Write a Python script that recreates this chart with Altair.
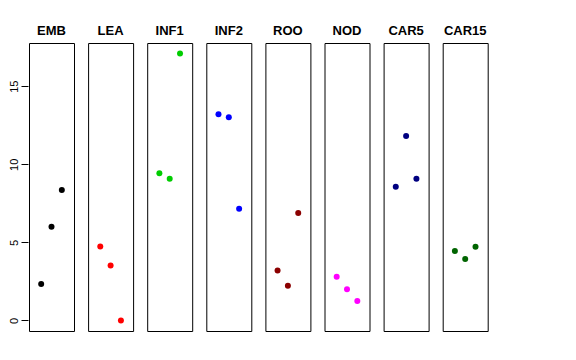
import altair as alt
import pandas as pd

panels = ["EMB", "LEA", "INF1", "INF2", "ROO", "NOD", "CAR5", "CAR15"]
colors = ["#000000", "#FF0000", "#00CD00", "#0000FF", "#8B0000", "#FF00FF", "#000080", "#006400"]
positions = [1, 2, 3]
emb = [2.33, 6.00, 8.35]
lea = [4.74, 3.52, 0.00]
inf1 = [9.42, 9.08, 17.09]
inf2 = [13.20, 13.01, 7.15]
roo = [3.20, 2.22, 6.88]
nod = [2.80, 1.99, 1.24]
car5 = [8.56, 11.81, 9.08]
car15 = [4.44, 3.93, 4.72]
series = [emb, lea, inf1, inf2, roo, nod, car5, car15]

rows = []
for name, vals in zip(panels, series):
    for p, v in zip(positions, vals):
        rows.append({"tissue": name, "pos": p, "value": v})
df = pd.DataFrame(rows)

FONT = "Liberation Sans"

base = alt.Chart(df).mark_circle(size=36, opacity=1).encode(
    x=alt.X("pos:Q", scale=alt.Scale(domain=[-0.18, 4.18], nice=False, zero=False), axis=None),
    y=alt.Y(
        "value:Q",
        scale=alt.Scale(domain=[-0.68, 17.77], nice=False, zero=False),
        axis=alt.Axis(
            values=[0, 5, 10, 15],
            title=None,
            grid=False,
            domain=False,
            tickSize=7,
            tickColor="black",
            tickWidth=1,
            labelAngle=270,
            labelAlign="center",
            labelBaseline="bottom",
            labelPadding=2,
            labelFont=FONT,
            labelFontSize=11,
            labelColor="black",
            minExtent=18,
            maxExtent=18,
        ),
    ),
    color=alt.Color("tissue:N", scale=alt.Scale(domain=panels, range=colors), legend=None),
).properties(width=45, height=288)

chart = base.facet(
    column=alt.Column(
        "tissue:N",
        sort=panels,
        header=alt.Header(
            title=None,
            labelFont=FONT,
            labelFontSize=13,
            labelFontWeight="bold",
            labelColor="black",
            labelPadding=4,
        ),
    ),
    spacing=12.1,
).configure_view(stroke="black", strokeWidth=1).properties(
    padding={"left": 0, "top": 17, "right": 5, "bottom": 5}
)

chart.save("out.html", embed_options={"renderer": "svg", "actions": False})
